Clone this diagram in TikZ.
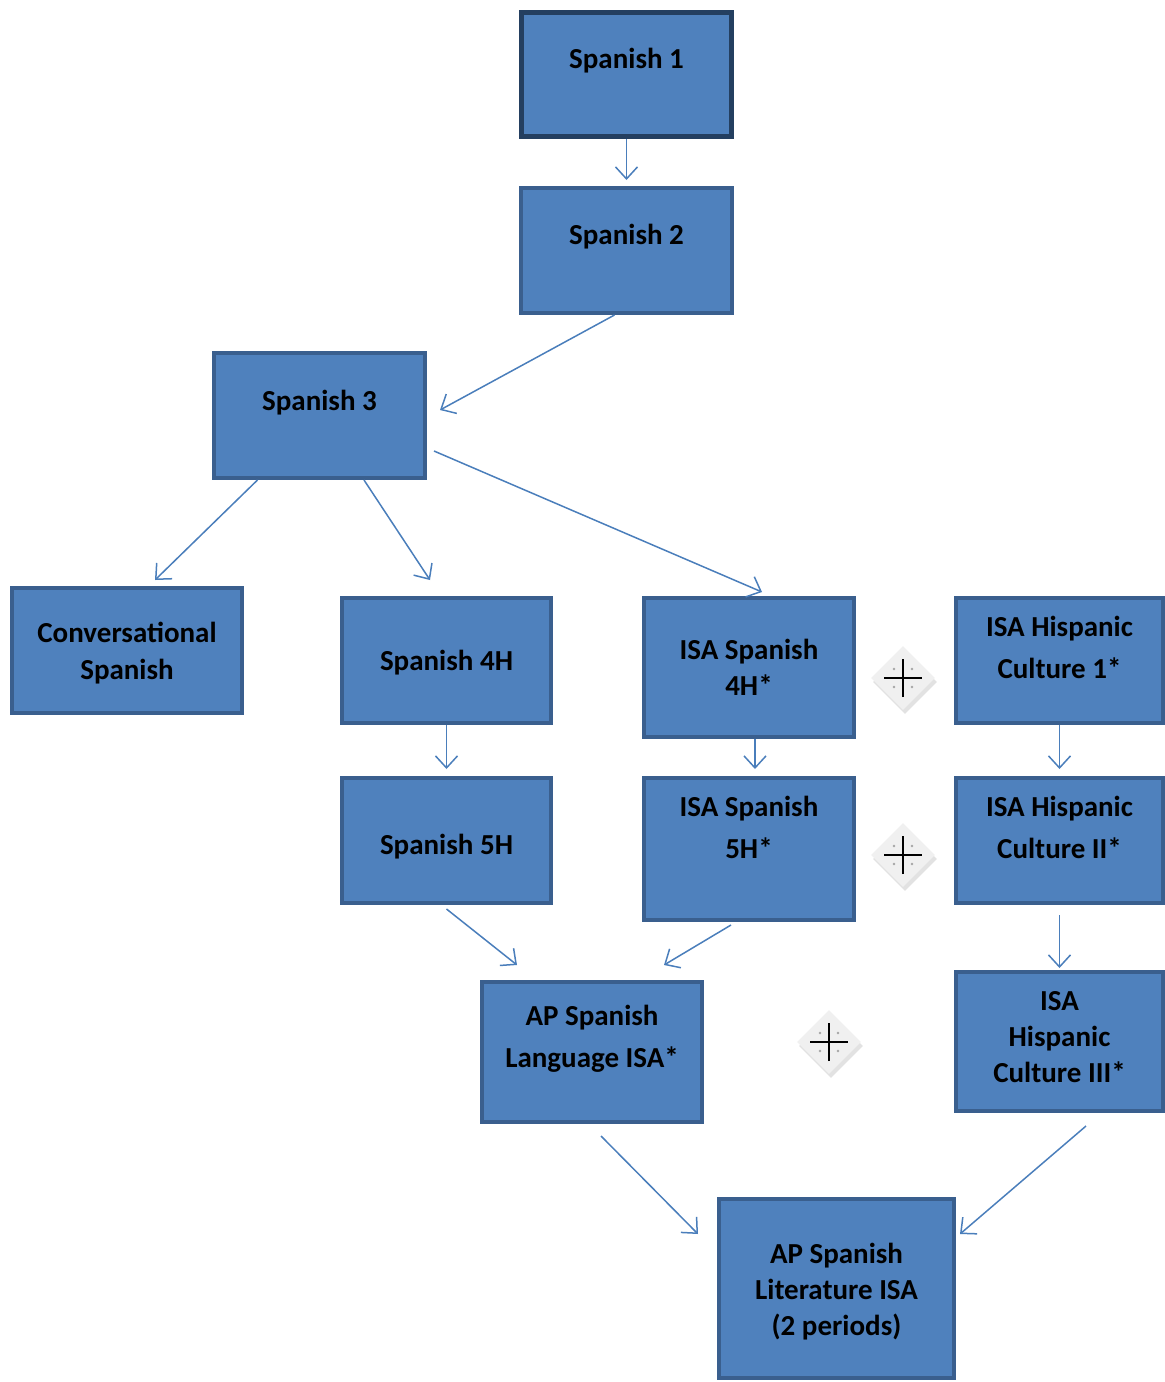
\documentclass[tikz,border=0pt]{standalone}
\usepackage{fontspec}
\setmainfont{Carlito}
\usetikzlibrary{arrows.meta,shapes.geometric,shadows}
\definecolor{boxfill}{HTML}{4F81BD}
\definecolor{boxline}{HTML}{3A5F8E}
\definecolor{topline}{HTML}{243F60}
\definecolor{linkblue}{HTML}{4A7EBB}
\begin{document}
\begin{tikzpicture}[x=1pt,y=-1pt,
    box/.style={rectangle,draw=boxline,fill=boxfill,line width=4pt,inner sep=0pt,
      align=center,text height=0pt,font={\bfseries\fontsize{29}{42}\selectfont}},
    tight/.style={font={\bfseries\fontsize{29}{36}\selectfont}},
    plus/.style={diamond,fill=gray!12,draw=none,minimum size=64pt,inner sep=0pt,
      drop shadow={shadow xshift=2pt,shadow yshift=-4pt,fill=gray!45},
      path picture={
        \fill[gray!70] ([shift={(-9pt,-9pt)}]path picture bounding box.center) circle (1.3pt)
                       ([shift={(9pt,-9pt)}]path picture bounding box.center) circle (1.3pt)
                       ([shift={(-9pt,9pt)}]path picture bounding box.center) circle (1.3pt)
                       ([shift={(9pt,9pt)}]path picture bounding box.center) circle (1.3pt);
        \draw[line width=2pt] ([xshift=-19pt]path picture bounding box.center) -- ([xshift=19pt]path picture bounding box.center)
                              ([yshift=-19pt]path picture bounding box.center) -- ([yshift=19pt]path picture bounding box.center);}},
    link/.style={draw=linkblue,line width=1.5pt,-{Straight Barb[length=12pt,width=22pt,line width=1.5pt]}}]
  \useasboundingbox (0,0) rectangle (1165,1382);
  % course boxes
  \node[box,draw=topline,line width=5pt,minimum width=210pt,minimum height=124pt,text depth=13pt]
    (s1) at (626.5,74.5) {Spanish 1};
  \node[box,minimum width=211pt,minimum height=125pt,text depth=13pt]
    (s2) at (626.5,250.5) {Spanish 2};
  \node[box,minimum width=211pt,minimum height=125pt,text depth=11pt]
    (s3) at (319.5,415.5) {Spanish 3};
  \node[box,minimum width=230pt,minimum height=125pt,text height=57pt,text depth=0pt,font={\bfseries\fontsize{29}{37}\selectfont}]
    (conv) at (127,650.5) {Conversational\\Spanish};
  \node[box,minimum width=209pt,minimum height=125pt,text height=19pt,text depth=0pt]
    (s4h) at (446.5,660.5) {Spanish 4H};
  \node[box,tight,minimum width=210pt,minimum height=139pt,text height=55pt,text depth=0pt]
    (isa4) at (749,667.5) {ISA Spanish\\4H*};
  \node[box,minimum width=207pt,minimum height=125pt,text height=35pt,text depth=0pt]
    (hc1) at (1059.5,660.5) {ISA Hispanic\\Culture 1*};
  \node[box,minimum width=209pt,minimum height=125pt,text height=27pt,text depth=0pt]
    (s5h) at (446.5,840.5) {Spanish 5H};
  \node[box,minimum width=210pt,minimum height=142pt,text height=18pt,text depth=0pt]
    (isa5) at (749,849) {ISA Spanish\\5H*};
  \node[box,minimum width=207pt,minimum height=125pt,text height=35pt,text depth=0pt]
    (hc2) at (1059.5,840.5) {ISA Hispanic\\Culture II*};
  \node[box,minimum width=220pt,minimum height=140pt,text height=30pt,text depth=0pt]
    (ap) at (592,1052) {AP Spanish\\Language ISA*};
  \node[box,tight,minimum width=207pt,minimum height=139pt,text height=81pt,text depth=0pt]
    (hc3) at (1059.5,1041.5) {ISA\\Hispanic\\Culture III*};
  \node[box,tight,minimum width=235pt,minimum height=179pt,text height=93pt,text depth=0pt]
    (lit) at (836.5,1288.5) {AP Spanish\\Literature ISA\\(2 periods)};
  % plus signs
  \node[plus] (p1) at (903,678) {};
  \node[plus] (p2) at (903,855) {};
  \node[plus] (p3) at (829,1042) {};
  \begin{scope}[link]
    \draw (s1.south) -- ([yshift=6pt]s2.north);
    \draw ([xshift=-12pt]s2.south) -- ([shift={(13pt,5.5pt)}]s3.east);
    \draw ([xshift=-62pt]s3.south) -- ([shift={(28pt,6pt)}]conv.north);
    \draw ([xshift=44.5pt]s3.south) -- ([shift={(-16.5pt,16pt)}]s4h.north);
    \draw ([shift={(7pt,-35.5pt)}]s3.east) -- ([shift={(13pt,4pt)}]isa4.north);
    \draw (s4h.south) -- ([yshift=7pt]s5h.north);
    \draw ([xshift=6pt]isa4.south) -- ([shift={(6pt,7pt)}]isa5.north);
    \draw (hc1.south) -- ([yshift=7pt]hc2.north);
    \draw ([yshift=-10pt]hc2.south) -- ([yshift=2pt]hc3.north);
    \draw ([yshift=-4pt]s5h.south) -- ([shift={(-75pt,15pt)}]ap.north);
    \draw ([shift={(-18pt,-3pt)}]isa5.south) -- ([shift={(72pt,15pt)}]ap.north);
    \draw ([shift={(9pt,-12pt)}]ap.south) -- ([shift={(-19pt,54.5pt)}]lit.west);
    \draw ([shift={(26.5pt,-13pt)}]hc3.south) -- ([shift={(4pt,54.5pt)}]lit.east);
  \end{scope}
\end{tikzpicture}
\end{document}
